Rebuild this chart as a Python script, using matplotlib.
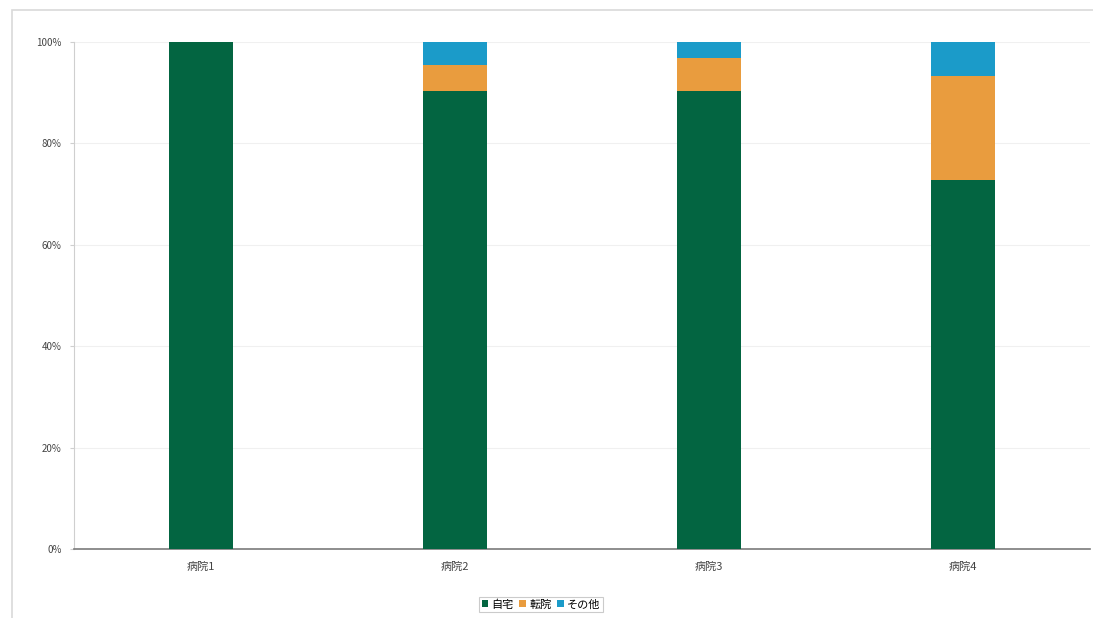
import numpy as np
import matplotlib.pyplot as plt
from matplotlib.patches import Rectangle
from matplotlib.ticker import PercentFormatter

plt.rcParams['font.family'] = ['Noto Sans CJK JP', 'DejaVu Sans']

# データ（各病院の退院先の割合, %）
hospitals = ['病院1', '病院2', '病院3', '病院4']
home = [100.0, 90.4, 90.3, 72.8]
transfer = [0.0, 5.1, 6.6, 20.5]
other = [0.0, 4.5, 3.1, 6.7]
series_labels = ['自宅', '転院', 'その他']
colors = ['#036541', '#E99C3E', '#1B9BC9']

fig = plt.figure(figsize=(10.93, 6.18), dpi=100)

# 外枠
fig.patches.append(Rectangle((12 / 1093, -0.01), 1.1, 1 - 10 / 618 + 0.01,
                             transform=fig.transFigure, fill=False,
                             edgecolor='#d9d9d9', linewidth=1.2))

ax = fig.add_axes([74 / 1093, 69 / 618, 1016 / 1093, 507 / 618])

x = np.arange(len(hospitals))
width = 0.25
bottom = np.zeros(len(hospitals))
for vals, lab, col in zip([home, transfer, other], series_labels, colors):
    ax.bar(x, vals, width, bottom=bottom, color=col, label=lab, zorder=3)
    bottom += np.array(vals)

ax.set_xlim(-0.5, len(hospitals) - 0.5)
ax.set_ylim(0, 100)
ax.set_yticks(np.arange(0, 101, 20))
ax.yaxis.set_major_formatter(PercentFormatter(decimals=0))
ax.set_xticks(x)
ax.set_xticklabels(hospitals)

ax.grid(axis='y', color='#f0f0f0', linewidth=0.8, zorder=0)
for s in ['top', 'right']:
    ax.spines[s].set_visible(False)
ax.spines['left'].set_color('#cfcfcf')
ax.spines['bottom'].set_color('#7a7a7a')
ax.spines['bottom'].set_linewidth(1.2)

ax.tick_params(axis='y', labelsize=7, colors='#cfcfcf', labelcolor='#444444',
               length=3, pad=6)
ax.tick_params(axis='x', labelsize=8, length=0, labelcolor='#444444', pad=9)

leg = fig.legend(loc='lower center', bbox_to_anchor=(0.495, 0.0), ncol=3,
                 fontsize=8, frameon=True, handlelength=0.6, handleheight=0.6,
                 handletextpad=0.3, columnspacing=0.5, borderpad=0.25,
                 fancybox=False)
leg.get_frame().set_edgecolor('#bfbfbf')
leg.get_frame().set_linewidth(0.8)

fig.savefig('out.png', dpi=100)
